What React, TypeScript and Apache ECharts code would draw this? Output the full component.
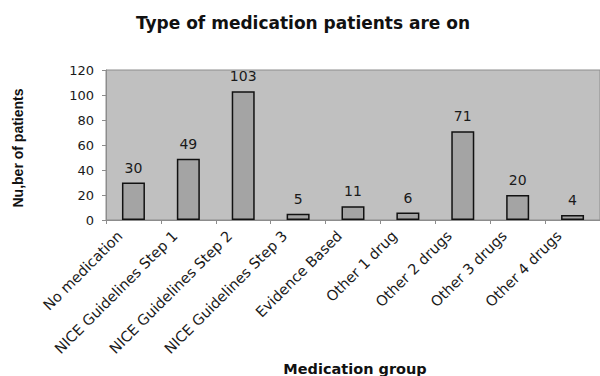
import React, { useEffect, useRef } from "react";
import * as echarts from "echarts";

const categories = [
  "No medication",
  "NICE Guidelines Step 1",
  "NICE Guidelines Step 2",
  "NICE Guidelines Step 3",
  "Evidence Based",
  "Other 1 drug",
  "Other 2 drugs",
  "Other 3 drugs",
  "Other 4 drugs",
];
const patientCounts = [30, 49, 103, 5, 11, 6, 71, 20, 4];
const yTicks = { min: 0, max: 120, interval: 20 };
const titleText = "Type of medication patients are on";
const xAxisTitle = "Medication group";
const yAxisTitle = "Nu,ber of patients";

export default function App() {
  const ref = useRef<HTMLDivElement>(null);
  useEffect(() => {
    if (!ref.current) return;
    const chart = echarts.init(ref.current, null, { renderer: "svg" });
    const textColor = "#1a1a1a";
    chart.setOption({
      animation: false,
      backgroundColor: "#ffffff",
      grid: {
        show: true,
        left: 106,
        top: 70,
        width: 498,
        height: 150,
        backgroundColor: "#c0c0c0",
        borderColor: "#8c8c8c",
        borderWidth: 1,
      },
      graphic: [
        {
          type: "text",
          x: 303,
          y: 23,
          style: {
            text: titleText,
            font: "bold 17px 'DejaVu Sans'",
            fill: "#111",
            align: "center",
            verticalAlign: "middle",
          },
        },
        {
          type: "text",
          x: 355,
          y: 369,
          style: {
            text: xAxisTitle,
            font: "bold 14.5px 'DejaVu Sans'",
            fill: "#111",
            align: "center",
            verticalAlign: "middle",
          },
        },
        {
          type: "text",
          x: 18,
          y: 148,
          rotation: Math.PI / 2,
          style: {
            text: yAxisTitle,
            font: "bold 14px 'Liberation Sans', Arial",
            fill: "#111",
            align: "center",
            verticalAlign: "middle",
          },
        },
      ],
      xAxis: {
        type: "category",
        data: categories,
        boundaryGap: true,
        axisLine: { show: true, lineStyle: { color: "#8c8c8c", width: 1 } },
        axisTick: { show: true, length: 4, lineStyle: { color: "#8c8c8c" } },
        axisLabel: {
          interval: 0,
          rotate: 45,
          margin: 0,
          padding: [0, 19, 0, 0],
          fontFamily: "'DejaVu Sans'",
          fontSize: 14.5,
          color: textColor,
        },
        splitLine: { show: false },
      },
      yAxis: {
        type: "value",
        min: yTicks.min,
        max: yTicks.max,
        interval: yTicks.interval,
        axisLine: { show: true, lineStyle: { color: "#8c8c8c", width: 1 } },
        axisTick: { show: true, length: 4, lineStyle: { color: "#8c8c8c" } },
        axisLabel: {
          margin: 12,
          fontFamily: "'DejaVu Sans'",
          fontSize: 13,
          color: textColor,
        },
        splitLine: { show: false },
      },
      series: [
        {
          type: "bar",
          data: patientCounts,
          barWidth: 23,
          itemStyle: {
            color: "#a4a4a4",
            borderColor: "#111",
            borderWidth: 1.5,
          },
          label: {
            show: true,
            position: "top",
            distance: 8,
            fontFamily: "'DejaVu Sans'",
            fontSize: 14,
            color: textColor,
          },
        },
      ],
    });
    return () => chart.dispose();
  }, []);
  return (
    <div
      ref={ref}
      style={{ position: "fixed", left: 0, top: 0, width: 600, height: 376 }}
    />
  );
}
